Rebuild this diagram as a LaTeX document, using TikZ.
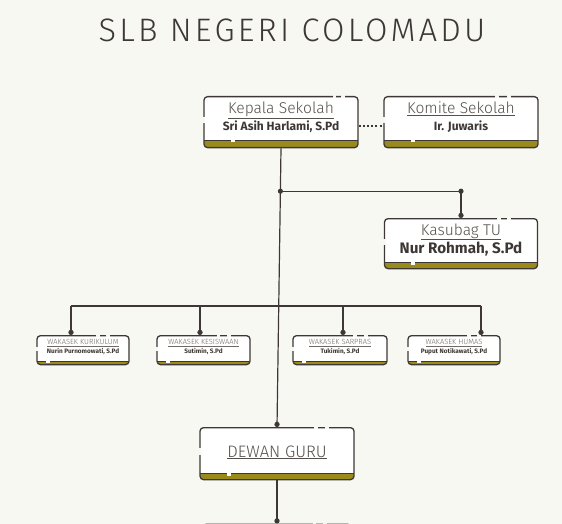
\documentclass[tikz,border=0pt]{standalone}
\usepackage{fontspec}
\IfFontExistsTF{Fira Sans Light}{\def\lightname{Fira Sans Light}}{\def\lightname{Fira Sans}}
\newfontfamily\lightf{\lightname}
\newfontfamily\titlef{\lightname}[LetterSpace=10]
\setmainfont{Fira Sans}
\usetikzlibrary{calc,arrows.meta}
\definecolor{bgc}{HTML}{F8F8F3}
\definecolor{ink}{HTML}{3D3835}
\definecolor{olv}{HTML}{9A8A1C}
\definecolor{headc}{HTML}{55504C}
\definecolor{smallc}{HTML}{6F6A65}
\tikzset{
  card/.style={draw=ink, line width=1.3pt, fill=white, rounded corners=3.5pt, inner sep=0pt, anchor=north,
    path picture={\fill[olv, sharp corners] (path picture bounding box.south west) rectangle ([yshift=#1]path picture bounding box.south east);
      \draw[ink, line width=1.2pt, sharp corners] ([yshift=#1]path picture bounding box.south west) -- ([yshift=#1]path picture bounding box.south east);}},
  headL/.style={font=\lightf\fontsize{15.6}{17}\selectfont, text=headc, inner sep=0pt, anchor=base},
  nameL/.style={font=\bfseries\fontsize{12}{13}\selectfont, text=ink, inner sep=0pt, anchor=base},
  headS/.style={font=\lightf\fontsize{7.5}{8}\selectfont, text=smallc, inner sep=0pt, anchor=base},
  nameS/.style={font=\bfseries\fontsize{6.4}{7}\selectfont, text=ink, inner sep=0pt, anchor=base},
  conn/.style={draw=ink, line width=1.2pt},
  dotend/.style={-{Circle[length=5.2pt]}},
}
\newcommand{\cardgaps}[5]{%
  \fill[bgc] ($(#1.north west)!#2!(#1.north east)$) ++(-1.8pt,-2pt) rectangle ++(3.6pt,4pt);
  \fill[bgc] ($(#1.north west)!#3!(#1.north east)$) ++(-1.8pt,-2pt) rectangle ++(3.6pt,4pt);
  \fill[bgc] ($(#1.north west)!0.40!(#1.south west)+(-2pt,0)$) rectangle ($(#1.north west)!0.52!(#1.south west)+(2pt,0)$);
  \fill[white] ($(#1.south west)!#4!(#1.south east)$) ++(-2pt,{#5-1.2pt}) rectangle ++(4pt,2.4pt);
}
\begin{document}
\begin{tikzpicture}[x=1pt,y=-1pt]
\useasboundingbox[fill=bgc] (0,0) rectangle (562,524);
\begin{scope}
\clip (0,0) rectangle (562,524);
% title
\node[font=\titlef\fontsize{32.5}{36}\selectfont, text=ink, inner sep=0pt, anchor=base] (title) at (292,42) {SLB NEGERI COLOMADU};

% cards
\node[card=7pt, minimum width=154pt, minimum height=51pt] (kepala) at (281,96) {};
\node[card=7pt, minimum width=154pt, minimum height=51pt] (komite) at (461,96) {};
\node[card=6pt, minimum width=153pt, minimum height=50pt] (kasubag) at (461,218) {};
\node[card=3.5pt, minimum width=92pt, minimum height=29pt] (wk1) at (83,335) {};
\node[card=3.5pt, minimum width=93pt, minimum height=29pt] (wk2) at (203.5,335) {};
\node[card=3.5pt, minimum width=94pt, minimum height=29pt] (wk3) at (340,335) {};
\node[card=3.5pt, minimum width=92pt, minimum height=29pt] (wk4) at (454,335) {};
\node[card=6pt, minimum width=154pt, minimum height=52pt] (dewan) at (277,427) {};
\node[card=6pt, minimum width=148pt, minimum height=52pt] (nextc) at (277,523.5) {};

\cardgaps{kepala}{0.845}{0.9}{0.19}{7pt}
\cardgaps{komite}{0.73}{0.81}{0.19}{7pt}
\cardgaps{kasubag}{0.745}{0.81}{0.19}{6pt}
\cardgaps{wk1}{0.66}{0.77}{0.12}{3.5pt}
\cardgaps{wk2}{0.66}{0.77}{0.12}{3.5pt}
\cardgaps{wk3}{0.66}{0.77}{0.12}{3.5pt}
\cardgaps{wk4}{0.66}{0.77}{0.12}{3.5pt}
\cardgaps{dewan}{0.75}{0.82}{0.19}{6pt}
\cardgaps{nextc}{0.75}{0.82}{0.19}{6pt}

% texts
\node[headL] (kepalaH) at ($(kepala.north)+(0,18)$) {\underline{Kepala Sekolah}};
\node[nameL] (kepalaN) at ($(kepala.north)+(0,35)$) {Sri Asih Harlami, S.Pd};
\node[headL] (komiteH) at ($(komite.north)+(0,18)$) {\underline{Komite Sekolah}};
\node[nameL] (komiteN) at ($(komite.north)+(0,35)$) {Ir. Juwaris};
\node[headL] (kasubagH) at ($(kasubag.north)+(0,17)$) {\underline{Kasubag TU}};
\node[nameL, font=\bfseries\fontsize{15.2}{16}\selectfont] (kasubagN) at ($(kasubag.north)+(0,35)$) {Nur Rohmah, S.Pd};
\node[headS] (wk1H) at ($(wk1.north)+(0,9.5)$) {\underline{WAKASEK KURIKULUM}};
\node[nameS] (wk1N) at ($(wk1.north)+(0,18.5)$) {Nurin Purnomowati, S.Pd};
\node[headS] (wk2H) at ($(wk2.north)+(0,9.5)$) {\underline{WAKASEK KESISWAAN}};
\node[nameS] (wk2N) at ($(wk2.north)+(0,18.5)$) {Sutimin, S.Pd};
\node[headS] (wk3H) at ($(wk3.north)+(0,9.5)$) {\underline{WAKASEK SARPRAS}};
\node[nameS] (wk3N) at ($(wk3.north)+(0,18.5)$) {Tukimin, S.Pd};
\node[headS] (wk4H) at ($(wk4.north)+(0,9.5)$) {\underline{WAKASEK HUMAS}};
\node[nameS] (wk4N) at ($(wk4.north)+(0,18.5)$) {Puput Notikawati, S.Pd};
\node[headL, font=\lightf\fontsize{16.6}{18}\selectfont] (dewanH) at ($(dewan.north)+(0,30)$) {\underline{DEWAN GURU}};

% connectors
\draw[ink, line width=2.2pt, dash pattern=on 2pt off 2.2pt] ([yshift=-3.5pt]kepala.east) -- ([yshift=-3.5pt]komite.west);
\draw[conn, dotend] (kepala.south) -- (dewan.north);
\coordinate (j1) at ($(kepala.south)!0.154!(dewan.north)$);
\draw[conn, dotend] (j1) -| (kasubag.north);
\fill[ink] (j1) circle (2.6pt);
\fill[ink] (j1 -| kasubag.north) circle (2.6pt);
\coordinate (barL) at (71,306);
\coordinate (barR) at (481,306);
\draw[conn] (barL) -- (barR);
\coordinate (d1) at ([xshift=-12pt]wk1.north);
\coordinate (d2) at ([xshift=-3.5pt]wk2.north);
\coordinate (d3) at ([xshift=3pt]wk3.north);
\coordinate (d4) at ([xshift=27pt]wk4.north);
\draw[conn, dotend] (d1 |- barL) -- (d1);
\draw[conn, dotend] (d2 |- barL) -- (d2);
\draw[conn, dotend] (d3 |- barL) -- (d3);
\draw[conn, dotend] (d4 |- barL) -- (d4);
\draw[conn, dotend] (dewan.south) -- (nextc.north);
\end{scope}
\end{tikzpicture}
\end{document}
